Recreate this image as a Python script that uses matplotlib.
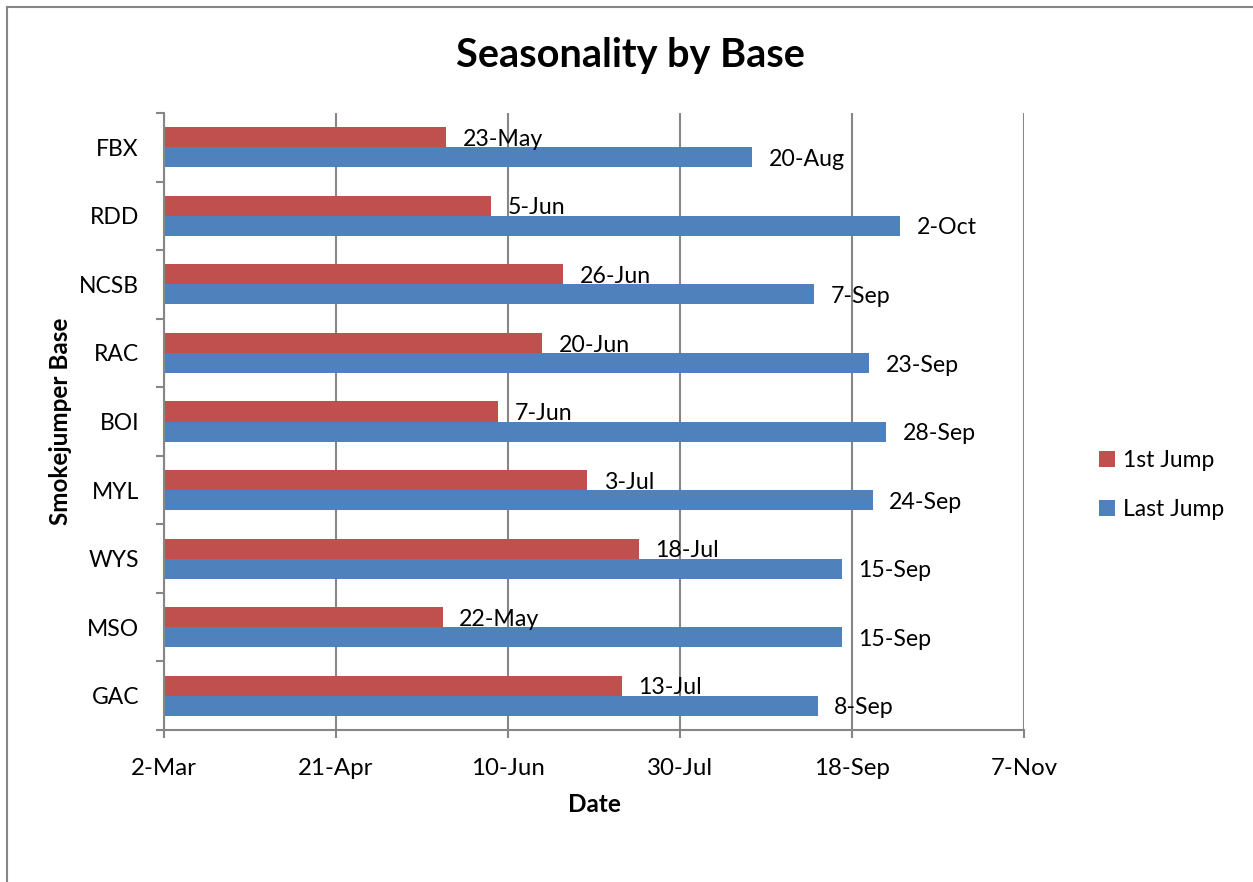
import datetime as dt
import matplotlib
matplotlib.use("Agg")
import matplotlib.pyplot as plt
import matplotlib.dates as mdates
from matplotlib.lines import Line2D
import numpy as np

plt.rcParams['font.family'] = ['Lato', 'DejaVu Sans']

# Smokejumper bases, listed bottom to top
bases = ["GAC", "MSO", "WYS", "MYL", "BOI", "RAC", "NCSB", "RDD", "FBX"]
first_jump = ["13-Jul", "22-May", "18-Jul", "3-Jul", "7-Jun", "20-Jun", "26-Jun", "5-Jun", "23-May"]
last_jump = ["8-Sep", "15-Sep", "15-Sep", "24-Sep", "28-Sep", "23-Sep", "7-Sep", "2-Oct", "20-Aug"]
date_ticks = ["2-Mar", "21-Apr", "10-Jun", "30-Jul", "18-Sep", "7-Nov"]

YEAR = 2011


def to_num(s):
    return mdates.date2num(dt.datetime.strptime(f"{s}-{YEAR}", "%d-%b-%Y"))


first_num = np.array([to_num(s) for s in first_jump])
last_num = np.array([to_num(s) for s in last_jump])
tick_num = [to_num(s) for s in date_ticks]
x0, x1 = tick_num[0], tick_num[-1]

RED = "#C0504D"
BLUE = "#4F81BD"
GRID = "#868686"

W, H = 1253, 882
fig = plt.figure(figsize=(W / 100, H / 100), dpi=100)
ax = fig.add_axes([164 / W, (H - 730) / H, (1024 - 164) / W, (730 - 113) / H])

y = np.arange(len(bases))
bh = 0.292
ax.barh(y + bh / 2, first_num - x0, left=x0, height=bh, color=RED, label="1st Jump", zorder=3)
ax.barh(y - bh / 2, last_num - x0, left=x0, height=bh, color=BLUE, label="Last Jump", zorder=3)

for yi, v, s in zip(y, first_num, first_jump):
    ax.annotate(s, (v, yi + bh / 2), xytext=(12, -1.5), textcoords="offset points",
                va="center", ha="left", fontsize=16.7, zorder=4)
for yi, v, s in zip(y, last_num, last_jump):
    ax.annotate(s, (v, yi - bh / 2), xytext=(12, -1.5), textcoords="offset points",
                va="center", ha="left", fontsize=16.7, zorder=4)

ax.set_xlim(x0, x1)
ax.set_ylim(-0.5, len(bases) - 0.5)

ax.set_xticks(tick_num)
ax.set_xticklabels(date_ticks)
ax.xaxis.grid(True, color=GRID, linewidth=1.5, zorder=1)
ax.tick_params(axis="x", length=6, width=1.5, color=GRID, pad=14, labelsize=17.3)

ax.set_yticks(y)
ax.set_yticklabels(bases)
ax.set_yticks(np.arange(-0.5, len(bases), 1.0), minor=True)
ax.tick_params(axis="y", which="major", length=0, pad=18, labelsize=16.5)
ax.tick_params(axis="y", which="minor", length=6, width=1.5, color=GRID)

for side in ("top", "right"):
    ax.spines[side].set_visible(False)
for side in ("left", "bottom"):
    ax.spines[side].set_color(GRID)
    ax.spines[side].set_linewidth(1.5)
    ax.spines[side].set_zorder(5)

ax.set_xlabel("Date", fontsize=17.5, fontweight="bold")
ax.xaxis.set_label_coords(0.5, (730 - 805) / (730 - 113))
ax.xaxis.label.set_va("center")
ax.set_ylabel("Smokejumper Base", fontsize=17.5, fontweight="bold")
ax.yaxis.set_label_coords((60 - 164) / (1024 - 164), 0.5)
ax.yaxis.label.set_va("center")

fig.text(630 / W, 1 - 55 / H, "Seasonality by Base", ha="center", va="center",
         fontsize=28.5, fontweight="bold")

ax.legend(loc="center left", bbox_to_anchor=(1099 / W, 1 - 485 / H), bbox_transform=fig.transFigure,
          frameon=False, fontsize=16.5, handlelength=0.7, handleheight=0.7,
          handletextpad=0.35, labelspacing=1.2, borderpad=0, borderaxespad=0)

# chart frame
fig.add_artist(Line2D([7 / W, 1.0], [1 - 7 / H, 1 - 7 / H], transform=fig.transFigure,
                      color=GRID, linewidth=1.5))
fig.add_artist(Line2D([7 / W, 7 / W], [0, 1 - 7 / H], transform=fig.transFigure,
                      color=GRID, linewidth=1.5))

fig.savefig("out.png", dpi=100)
